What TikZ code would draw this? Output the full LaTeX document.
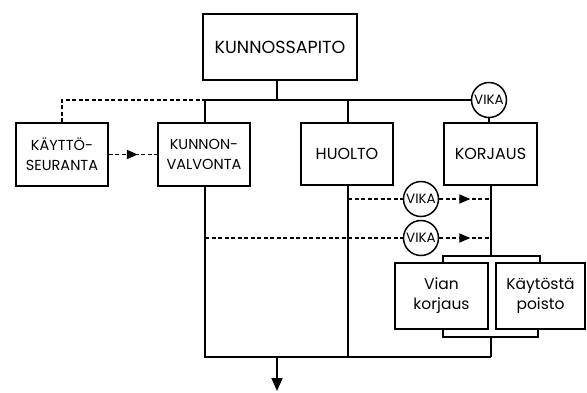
\documentclass[tikz,border=0pt]{standalone}
\usepackage{fontspec}
\setmainfont{Poppins}
\usetikzlibrary{arrows.meta,decorations.markings}
\tikzset{
  box/.style={draw,line width=1.8pt,rectangle,inner sep=0pt,align=center,font=\fontsize{14.5}{20}\selectfont},
  vika/.style={draw,line width=1.5pt,circle,minimum size=35pt,inner sep=0pt,font=\fontsize{13.5}{12}\selectfont},
  ln/.style={line width=1.8pt},
  dl/.style={line width=1.8pt,dash pattern=on 4pt off 2.5pt},
  midarrow/.style={postaction={decorate},decoration={markings,mark=at position #1 with {\arrow{Triangle[length=11pt,width=9pt]}}}},
}
\begin{document}
\begin{tikzpicture}[x=1pt,y=-1pt]
\useasboundingbox (0,0) rectangle (587,392);
\fill[white] (0,0) rectangle (587,392);
\node[box,minimum width=154pt,minimum height=66pt,font=\fontsize{17.5}{20}\selectfont] (top) at (280,47) {KUNNOSSAPITO};
\node[box,minimum width=92pt,minimum height=63pt] (kay) at (62,154.5) {KÄYTTÖ-\\SEURANTA};
\node[box,minimum width=92pt,minimum height=63pt] (kv) at (204,154.5) {KUNNON-\\VALVONTA};
\node[box,minimum width=92pt,minimum height=62pt,font=\fontsize{16}{20}\selectfont] (huo) at (347,154) {HUOLTO};
\node[box,minimum width=93pt,minimum height=62pt,font=\fontsize{16}{20}\selectfont] (kor) at (490.5,154) {KORJAUS};
\node[vika] (v0) at (489,100) {VIKA};
\node[vika] (v1) at (421,199) {VIKA};
\node[vika] (v2) at (421,238) {VIKA};
\node[box,minimum width=93pt,minimum height=66pt,font=\fontsize{15.5}{20}\selectfont] (vian) at (441.5,296) {Vian\\korjaus};
\node[box,minimum width=89pt,minimum height=66pt,font=\fontsize{15.5}{20}\selectfont] (poi) at (540.5,296) {Käytöstä\\poisto};
\coordinate (bl) at (205,100);
\coordinate (bt) at (277,100);
\coordinate (bh) at (348,100);
\coordinate (dk) at (62,100);
\coordinate (r1) at (348,199);
\coordinate (e1) at (491,199);
\coordinate (r2) at (205,238);
\coordinate (e2) at (491,238);
\coordinate (tb) at (491,256);
\coordinate (bb) at (491,337);
\coordinate (ll) at (205,357);
\coordinate (lh) at (348,357);
\coordinate (lm) at (277,357);
\coordinate (lr) at (491,357);
\coordinate (out) at (277,391);
% bus
\draw[ln] (bt |- top.south) -- (bt);
\draw[ln] (bl) -- (v0.west);
\draw[ln] (v0.south) -- (v0.south |- kor.north);
\draw[ln] (bl) -- (bl |- kv.north);
\draw[ln] (bh) -- (bh |- huo.north);
% dashed from kay
\draw[dl] (kay.north) -- (dk) -- (bl);
\draw[dl,midarrow=0.6] (kay.east) -- (kv.west);
% vertical lines down
\draw[ln] (ll |- kv.south) -- (ll) -- (lr);
\draw[ln] (lh |- huo.south) -- (lh);
\draw[ln] (tb |- kor.south) -- (tb);
\draw[ln] (443,263) -- (443,256) -- (540,256) -- (540,263);
\draw[ln] (443,329) -- (443,337) -- (538,337) -- (538,329);
\draw[ln] (bb) -- (lr);
\draw[ln,-{Triangle[length=13pt,width=11pt]}] (lm) -- (out);
% vika rows
\draw[dl] (r1) -- (v1.west);
\draw[dl,midarrow=0.6] (v1.east) -- (e1);
\draw[dl] (r2) -- (v2.west);
\draw[dl,midarrow=0.6] (v2.east) -- (e2);
\end{tikzpicture}
\end{document}
